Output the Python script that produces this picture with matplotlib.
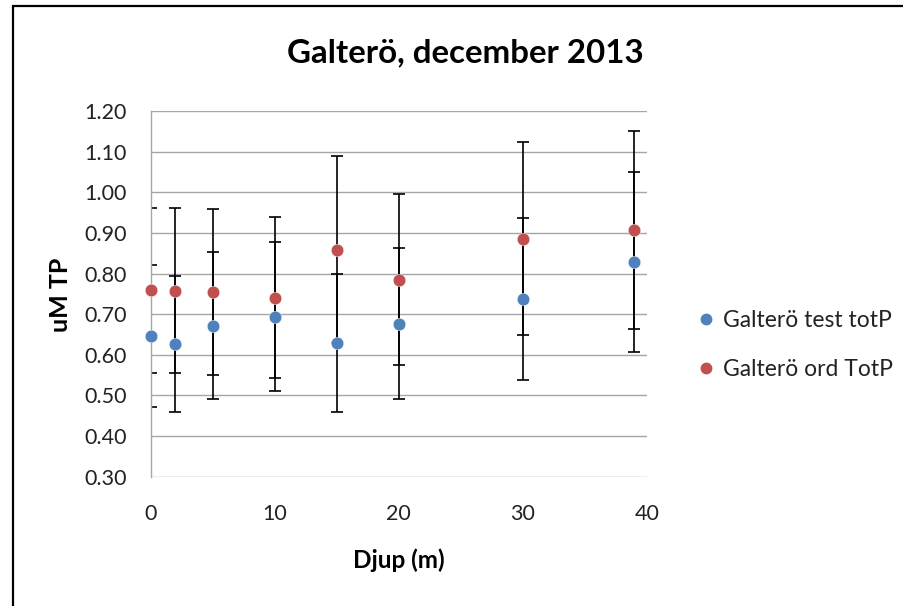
import matplotlib
matplotlib.use('Agg')
import matplotlib.pyplot as plt
from matplotlib.patches import Rectangle
from matplotlib.lines import Line2D

plt.rcParams['font.family'] = ['Lato', 'DejaVu Sans']

depth = [0, 2, 5, 10, 15, 20, 30, 39]
test_totp = [0.647, 0.626, 0.671, 0.694, 0.630, 0.677, 0.738, 0.829]
test_err = [0.175, 0.168, 0.181, 0.184, 0.170, 0.185, 0.199, 0.222]
ord_totp = [0.759, 0.758, 0.755, 0.741, 0.859, 0.785, 0.886, 0.907]
ord_err = [0.203, 0.204, 0.205, 0.198, 0.231, 0.211, 0.238, 0.244]
y_ticks = [0.30, 0.40, 0.50, 0.60, 0.70, 0.80, 0.90, 1.00, 1.10, 1.20]
x_ticks = [0, 10, 20, 30, 40]
labels = ['Galterö test totP', 'Galterö ord TotP']
title = 'Galterö, december 2013'

BLUE = '#4F81BD'
RED = '#C0504D'
W, H = 904, 606

fig = plt.figure(figsize=(W / 100, H / 100), dpi=100)
fig.patch.set_facecolor('white')

# outer chart frame (cut off at right/bottom like the reference)
fig.patches.append(Rectangle((13 / W, -0.2), 1.2, 1.2 - 6 / H,
                             transform=fig.transFigure, fill=False,
                             edgecolor='black', lw=1.6))

ax = fig.add_axes([150.7 / W, 1 - 476.7 / H, 496 / W, 365.7 / H])
ax.set_xlim(0, 40)
ax.set_ylim(0.30, 1.20)
ax.set_yticks(y_ticks)
ax.set_yticklabels([f'{v:.2f}' for v in y_ticks])
ax.set_xticks(x_ticks)
ax.set_xticklabels([str(v) for v in x_ticks])
ax.grid(axis='y', color='#A6A6A6', lw=1.0)
ax.set_axisbelow(True)
for s in ['top', 'right', 'bottom']:
    ax.spines[s].set_visible(False)
ax.spines['left'].set_color('#A6A6A6')
ax.spines['left'].set_linewidth(1.0)
ax.tick_params(axis='both', length=0, labelsize=15.5, colors='#222222')
ax.tick_params(axis='y', pad=17)
ax.tick_params(axis='x', pad=20)

for vals, errs in [(test_totp, test_err), (ord_totp, ord_err)]:
    ax.errorbar(depth, vals, yerr=errs, fmt='none', ecolor='black',
                elinewidth=1.2, capsize=4, capthick=1.2, zorder=2)

ax.plot(depth, test_totp, 'o', color=BLUE, ms=9, mec='white', mew=0.3,
        clip_on=False, zorder=3)
ax.plot(depth, ord_totp, 'o', color=RED, ms=9, mec='white', mew=0.3,
        clip_on=False, zorder=4)

fig.text(465 / W, 1 - 53 / H, title, ha='center', va='center',
         fontsize=23.8, fontweight='bold', color='black')
fig.text(60 / W, 1 - 295 / H, 'uM TP', ha='center', va='center',
         rotation=90, fontsize=18, fontweight='bold', color='black')
fig.text(399 / W, 1 - 560 / H, 'Djup (m)', ha='center', va='center',
         fontsize=17.5, fontweight='bold', color='black')

handles = [Line2D([], [], ls='none', marker='o', color=BLUE, ms=7.5),
           Line2D([], [], ls='none', marker='o', color=RED, ms=7.5)]
fig.legend(handles, labels, loc='center left',
           bbox_to_anchor=(676 / W, 1 - 345 / H), frameon=False,
           fontsize=16.5, labelspacing=1.2, handlelength=0.8,
           handletextpad=0.35, labelcolor='#222222')

fig.savefig('out.png', dpi=100, facecolor='white')
